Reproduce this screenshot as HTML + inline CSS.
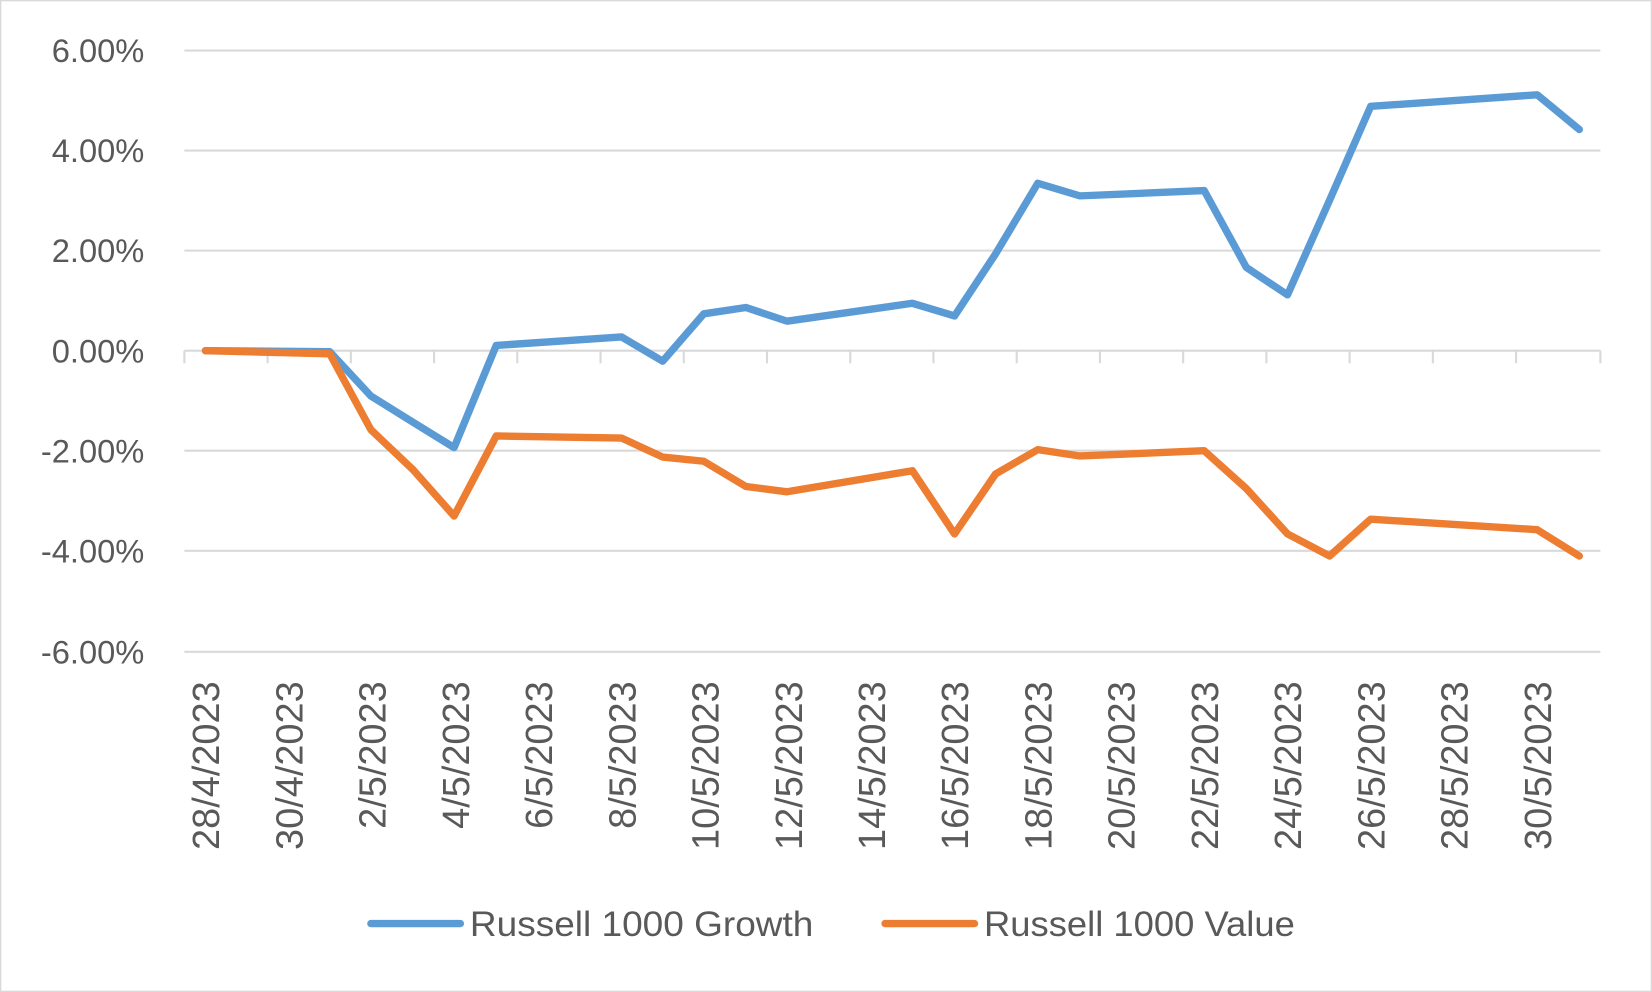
<!DOCTYPE html>
<html><head><style>html,body{margin:0;padding:0;background:#fff}svg{display:block}</style></head>
<body>
<svg width="1652" height="992" viewBox="0 0 1568 942" preserveAspectRatio="none" xmlns="http://www.w3.org/2000/svg">
<rect x="0.5" y="0.5" width="1567" height="941" fill="#fff" stroke="#d9d9d9" stroke-width="1.5"/>
<g stroke="#d9d9d9" stroke-width="2">
<line x1="175" y1="48" x2="1519" y2="48"/>
<line x1="175" y1="143" x2="1519" y2="143"/>
<line x1="175" y1="238" x2="1519" y2="238"/>
<line x1="175" y1="428" x2="1519" y2="428"/>
<line x1="175" y1="523" x2="1519" y2="523"/>
<line x1="175" y1="619" x2="1519" y2="619"/>
<line x1="175" y1="333" x2="1519" y2="333"/>
<line x1="175" y1="333" x2="175" y2="345"/><line x1="254" y1="333" x2="254" y2="345"/><line x1="333" y1="333" x2="333" y2="345"/><line x1="412" y1="333" x2="412" y2="345"/><line x1="491" y1="333" x2="491" y2="345"/><line x1="570" y1="333" x2="570" y2="345"/><line x1="649" y1="333" x2="649" y2="345"/><line x1="728" y1="333" x2="728" y2="345"/><line x1="807" y1="333" x2="807" y2="345"/><line x1="886" y1="333" x2="886" y2="345"/><line x1="965" y1="333" x2="965" y2="345"/><line x1="1044" y1="333" x2="1044" y2="345"/><line x1="1123" y1="333" x2="1123" y2="345"/><line x1="1202" y1="333" x2="1202" y2="345"/><line x1="1281" y1="333" x2="1281" y2="345"/><line x1="1360" y1="333" x2="1360" y2="345"/><line x1="1439" y1="333" x2="1439" y2="345"/><line x1="1519" y1="333" x2="1519" y2="345"/>
</g>
<g font-family="Liberation Sans, sans-serif" font-size="31" fill="#595959" text-anchor="end">
<text x="137" y="59">6.00%</text>
<text x="137" y="154">4.00%</text>
<text x="137" y="249">2.00%</text>
<text x="137" y="344">0.00%</text>
<text x="137" y="439">-2.00%</text>
<text x="137" y="534">-4.00%</text>
<text x="137" y="630">-6.00%</text>
</g>
<g font-family="Liberation Sans, sans-serif" font-size="36" fill="#595959" text-anchor="end">
<text transform="translate(208,647) rotate(-90)">28/4/2023</text>
<text transform="translate(287,647) rotate(-90)">30/4/2023</text>
<text transform="translate(366,647) rotate(-90)">2/5/2023</text>
<text transform="translate(445,647) rotate(-90)">4/5/2023</text>
<text transform="translate(524,647) rotate(-90)">6/5/2023</text>
<text transform="translate(603,647) rotate(-90)">8/5/2023</text>
<text transform="translate(682,647) rotate(-90)">10/5/2023</text>
<text transform="translate(761,647) rotate(-90)">12/5/2023</text>
<text transform="translate(840,647) rotate(-90)">14/5/2023</text>
<text transform="translate(919,647) rotate(-90)">16/5/2023</text>
<text transform="translate(998,647) rotate(-90)">18/5/2023</text>
<text transform="translate(1077,647) rotate(-90)">20/5/2023</text>
<text transform="translate(1156,647) rotate(-90)">22/5/2023</text>
<text transform="translate(1235,647) rotate(-90)">24/5/2023</text>
<text transform="translate(1314,647) rotate(-90)">26/5/2023</text>
<text transform="translate(1393,647) rotate(-90)">28/5/2023</text>
<text transform="translate(1472,647) rotate(-90)">30/5/2023</text>
</g>
<polyline fill="none" stroke="#5b9bd5" stroke-width="7" stroke-linejoin="round" stroke-linecap="round"
points="195,333 313,334 352,376 392,401 431,425 471,328 590,320 629,343 668,298 708,292 747,305 866,288 906,300 945,241 985,174 1025,186 1143,181 1183,254 1222,280 1262,190 1301,101 1459,90 1499,123"/>
<polyline fill="none" stroke="#ed7d31" stroke-width="7" stroke-linejoin="round" stroke-linecap="round"
points="195,333 313,336 352,408 392,446 431,490 471,414 590,416 629,434 668,438 708,462 747,467 866,447 906,507 945,450 985,427 1025,433 1143,428 1183,464 1222,507 1262,528 1301,493 1459,503 1499,528"/>
<line x1="352" y1="877" x2="437" y2="877" stroke="#5b9bd5" stroke-width="7" stroke-linecap="round"/>
<line x1="840" y1="877" x2="925" y2="877" stroke="#ed7d31" stroke-width="7" stroke-linecap="round"/>
<g font-family="Liberation Sans, sans-serif" font-size="33" fill="#595959">
<text x="446" y="889" textLength="326" lengthAdjust="spacingAndGlyphs">Russell 1000 Growth</text>
<text x="934" y="889" textLength="295" lengthAdjust="spacingAndGlyphs">Russell 1000 Value</text>
</g>
</svg>
</body></html>
